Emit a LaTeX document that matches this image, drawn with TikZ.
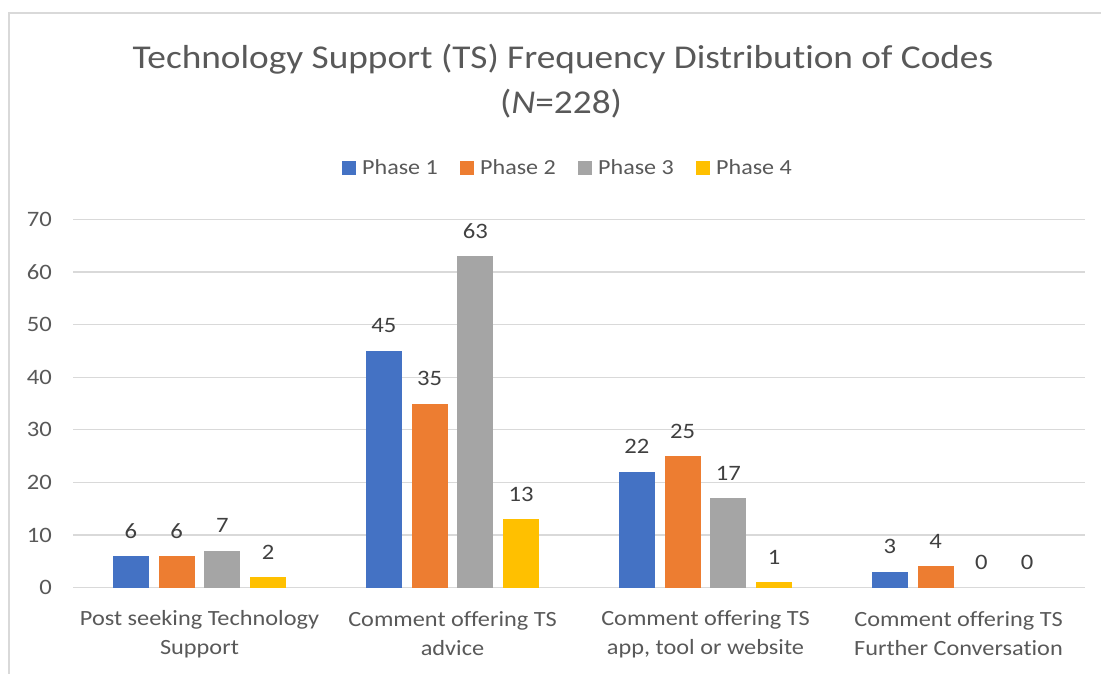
\documentclass[tikz,border=0pt]{standalone}
\usepackage{fontspec}
\setmainfont{Carlito}[FakeStretch=1.12,Ligatures=NoCommon]
\usepackage{xcolor}
\definecolor{phase1}{HTML}{4472C4}
\definecolor{phase2}{HTML}{ED7D31}
\definecolor{phase3}{HTML}{A5A5A5}
\definecolor{phase4}{HTML}{FFC000}
\definecolor{gridgray}{HTML}{D9D9D9}
\definecolor{textgray}{HTML}{595959}
\definecolor{valuegray}{HTML}{404040}

\begin{document}
\begin{tikzpicture}[x=1pt,y=-1pt,
            gridline/.style={draw=gridgray,line width=1.3pt},
            ticklabel/.style={anchor=east,text=textgray,inner sep=0pt,font=\fontsize{22}{26}\selectfont},
            catlabel/.style={align=center,text=textgray,inner sep=0pt,font=\fontsize{21.7}{29}\selectfont},
            valuelabel/.style={text=valuegray,inner sep=0pt,font=\fontsize{22}{26}\selectfont},
            legendtext/.style={anchor=west,text=textgray,inner sep=0pt,font=\fontsize{21.5}{26}\selectfont},
            titletext/.style={anchor=base,text=textgray,inner sep=0pt,font=\fontsize{33.3}{38}\selectfont}]
            \useasboundingbox[fill=white] (0,0) rectangle (1101,673);
            \draw[gridgray,line width=1.5pt] (9,690) -- (9,13) -- (1110,13);

            \node[titletext] (title) at (563,68.3) {Technology Support (TS) Frequency Distribution of Codes};
            \node[titletext] (titleN) at (561,113.3) {(\textit{N}=228)};

            \foreach \p/\x in {1/342,2/460,3/578,4/696} {
                \fill[phase\p] (\x,161) rectangle ++(14,14);
                \node[legendtext] (legend\p) at (\x+20,167) {Phase \p};
            }

            \foreach \t in {0,10,...,70} {
                \draw[gridline] (73,{587.5-5.257*\t}) -- (1085,{587.5-5.257*\t});
                \node[ticklabel] (tick\t) at (52,{587.5-5.257*\t}) {\t};
            }

            \foreach \vals [count=\i] in {{6,6,7,2},{45,35,63,13},{22,25,17,1},{3,4,0,0}} {
                \foreach \v [count=\j] in \vals {
                    \pgfmathsetmacro{\cx}{73+253*(\i-0.5)+45.8*(\j-2.5)}
                    \pgfmathsetmacro{\top}{587.5-5.257*\v}
                    \ifnum\v>0
                        \fill[phase\j] (\cx-18,587.5) rectangle (\cx+18,\top);
                    \fi
                    \node[valuelabel] (val-\i-\j) at (\cx,\top-25) {\v};
                }
            }

            \node[catlabel] (cat1) at (199.5,634) {Post seeking Technology\\Support};
            \node[catlabel] (cat2) at (452.5,634) {Comment offering TS\\advice};
            \node[catlabel] (cat3) at (705.5,634) {Comment offering TS\\app, tool or website};
            \node[catlabel] (cat4) at (958.5,634) {Comment offering TS\\Further Conversation};
        \end{tikzpicture}
\end{document}
